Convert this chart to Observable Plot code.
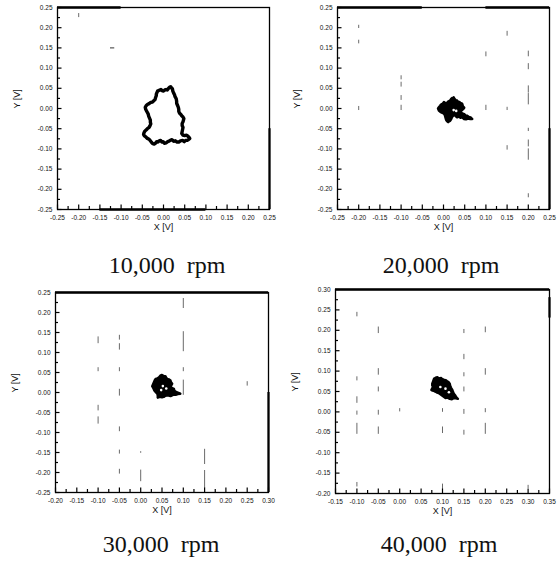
<!DOCTYPE html>
<html><head><meta charset="utf-8">
<script src="https://cdn.jsdelivr.net/npm/d3@7"></script>
<script src="https://cdn.jsdelivr.net/npm/@observablehq/plot@0.6"></script>
<style>
body{margin:0;background:#fff;}
#root{position:relative;width:559px;height:567px;overflow:hidden;background:#fff;}
.panel{position:absolute;}
.cap{position:absolute;font-family:"Liberation Serif","Times New Roman",serif;font-size:24px;line-height:24px;color:#111;white-space:pre;transform:translateX(-50%);}
</style></head><body><div id="root"></div>
<script>
// ---- captions ----
const captions = ["10,000  rpm", "20,000  rpm", "30,000  rpm", "40,000  rpm"];

// ---- tick values ----
const xTicks10 = [-0.25,-0.20,-0.15,-0.10,-0.05,0.00,0.05,0.10,0.15,0.20,0.25];
const yTicks10 = [-0.25,-0.20,-0.15,-0.10,-0.05,0.00,0.05,0.10,0.15,0.20,0.25];
const xTicks20 = [-0.25,-0.20,-0.15,-0.10,-0.05,0.00,0.05,0.10,0.15,0.20,0.25];
const yTicks20 = [-0.25,-0.20,-0.15,-0.10,-0.05,0.00,0.05,0.10,0.15,0.20,0.25];
const xTicks30 = [-0.20,-0.15,-0.10,-0.05,0.00,0.05,0.10,0.15,0.20,0.25,0.30];
const yTicks30 = [-0.25,-0.20,-0.15,-0.10,-0.05,0.00,0.05,0.10,0.15,0.20,0.25];
const xTicks40 = [-0.15,-0.10,-0.05,0.00,0.05,0.10,0.15,0.20,0.25,0.30,0.35];
const yTicks40 = [-0.20,-0.15,-0.10,-0.05,0.00,0.05,0.10,0.15,0.20,0.25,0.30];

// ---- orbit traces [x, y] in volts ----
const orbit10 = [[-0.016,0.038],[-0.014,0.043],[-0.010,0.045],[-0.006,0.047],[-0.003,0.044],[0.000,0.043],[0.003,0.046],[0.006,0.047],[0.009,0.046],[0.012,0.050],[0.015,0.053],[0.017,0.054],[0.019,0.051],[0.021,0.049],[0.022,0.043],[0.024,0.038],[0.026,0.034],[0.027,0.030],[0.030,0.024],[0.031,0.018],[0.031,0.013],[0.033,0.008],[0.035,0.003],[0.036,-0.002],[0.036,-0.007],[0.038,-0.012],[0.041,-0.015],[0.043,-0.018],[0.046,-0.021],[0.048,-0.025],[0.047,-0.029],[0.046,-0.033],[0.044,-0.037],[0.044,-0.042],[0.046,-0.047],[0.045,-0.052],[0.044,-0.057],[0.043,-0.062],[0.046,-0.066],[0.050,-0.067],[0.054,-0.066],[0.057,-0.068],[0.060,-0.071],[0.062,-0.074],[0.059,-0.077],[0.056,-0.079],[0.052,-0.079],[0.049,-0.082],[0.045,-0.079],[0.040,-0.080],[0.036,-0.083],[0.032,-0.083],[0.028,-0.080],[0.024,-0.081],[0.020,-0.077],[0.017,-0.078],[0.013,-0.081],[0.010,-0.082],[0.006,-0.085],[0.002,-0.086],[-0.001,-0.082],[-0.004,-0.083],[-0.007,-0.079],[-0.010,-0.080],[-0.013,-0.083],[-0.016,-0.082],[-0.019,-0.086],[-0.022,-0.088],[-0.025,-0.087],[-0.028,-0.084],[-0.031,-0.080],[-0.034,-0.076],[-0.038,-0.074],[-0.041,-0.071],[-0.045,-0.068],[-0.047,-0.064],[-0.046,-0.060],[-0.044,-0.056],[-0.041,-0.053],[-0.038,-0.050],[-0.034,-0.047],[-0.032,-0.043],[-0.030,-0.038],[-0.031,-0.034],[-0.031,-0.029],[-0.033,-0.024],[-0.035,-0.019],[-0.036,-0.014],[-0.038,-0.010],[-0.040,-0.006],[-0.042,-0.002],[-0.043,0.003],[-0.041,0.007],[-0.038,0.010],[-0.034,0.012],[-0.030,0.015],[-0.026,0.016],[-0.023,0.019],[-0.020,0.022],[-0.019,0.026],[-0.018,0.029],[-0.017,0.032],[-0.017,0.035],[-0.016,0.038]];
const orbit20 = [[-0.011,0.003],[-0.008,0.007],[-0.006,0.010],[-0.002,0.012],[0.001,0.016],[0.005,0.013],[0.008,0.014],[0.012,0.018],[0.016,0.020],[0.018,0.024],[0.020,0.026],[0.022,0.025],[0.024,0.028],[0.026,0.024],[0.028,0.022],[0.030,0.018],[0.032,0.020],[0.035,0.016],[0.038,0.016],[0.041,0.013],[0.044,0.012],[0.045,0.008],[0.046,0.005],[0.049,0.002],[0.048,0.000],[0.045,-0.003],[0.042,-0.006],[0.040,-0.009],[0.043,-0.011],[0.046,-0.013],[0.049,-0.014],[0.052,-0.017],[0.056,-0.018],[0.060,-0.021],[0.064,-0.022],[0.068,-0.026],[0.063,-0.026],[0.058,-0.025],[0.053,-0.027],[0.048,-0.026],[0.044,-0.022],[0.040,-0.023],[0.036,-0.020],[0.032,-0.022],[0.028,-0.018],[0.025,-0.016],[0.022,-0.019],[0.020,-0.022],[0.018,-0.027],[0.016,-0.030],[0.013,-0.032],[0.011,-0.034],[0.008,-0.031],[0.006,-0.028],[0.005,-0.024],[0.004,-0.020],[0.003,-0.016],[0.001,-0.013],[-0.002,-0.011],[-0.005,-0.010],[-0.008,-0.008],[-0.011,-0.005],[-0.013,0.000],[-0.011,0.003]];
const orbit30 = [[0.031,0.026],[0.033,0.031],[0.035,0.034],[0.039,0.035],[0.043,0.038],[0.046,0.042],[0.050,0.044],[0.054,0.041],[0.058,0.041],[0.060,0.037],[0.062,0.034],[0.066,0.033],[0.070,0.030],[0.071,0.026],[0.074,0.022],[0.072,0.018],[0.070,0.013],[0.074,0.011],[0.078,0.009],[0.079,0.005],[0.082,0.002],[0.087,0.000],[0.093,-0.003],[0.087,-0.004],[0.082,-0.006],[0.076,-0.006],[0.070,-0.009],[0.064,-0.007],[0.058,-0.008],[0.054,-0.011],[0.050,-0.012],[0.045,-0.011],[0.040,-0.013],[0.040,-0.008],[0.039,-0.003],[0.035,0.001],[0.032,0.005],[0.030,0.010],[0.027,0.016],[0.029,0.021],[0.031,0.026]];
const orbit40 = [[0.080,0.081],[0.084,0.084],[0.088,0.085],[0.092,0.082],[0.097,0.083],[0.100,0.080],[0.103,0.079],[0.107,0.078],[0.111,0.075],[0.114,0.073],[0.117,0.069],[0.118,0.064],[0.120,0.059],[0.123,0.054],[0.125,0.048],[0.127,0.044],[0.130,0.040],[0.133,0.035],[0.136,0.032],[0.131,0.033],[0.127,0.034],[0.122,0.031],[0.117,0.032],[0.112,0.035],[0.107,0.034],[0.103,0.037],[0.099,0.040],[0.095,0.043],[0.091,0.046],[0.086,0.048],[0.081,0.051],[0.077,0.052],[0.074,0.054],[0.076,0.058],[0.078,0.061],[0.076,0.065],[0.076,0.069],[0.078,0.075],[0.080,0.081]];

// ---- light spots inside the dense traces ----
const holes20 = [[0.024,-0.004],[0.030,-0.006]];
const holes30 = [[0.052,0.016],[0.060,0.010],[0.048,0.006]];
const holes40 = [[0.107,0.057],[0.115,0.048],[0.095,0.061]];

// ---- faint vertical dashes in the scans [x, y1, y2] ----
const dashes10 = [[-0.20,0.225,0.235]];
const dashes20 = [[-0.20,0.198,0.206],[-0.20,0.160,0.169],[-0.20,-0.005,0.005],[-0.10,0.071,0.081],[-0.10,0.053,0.065],[-0.10,0.020,0.032],[-0.10,-0.005,0.008],[0.10,0.128,0.140],[0.10,-0.005,0.008],[0.15,0.179,0.191],[0.15,-0.005,0.003],[0.15,-0.103,-0.092],[0.20,0.128,0.142],[0.20,0.096,0.111],[0.20,0.038,0.056],[0.20,0.009,0.037],[0.20,-0.057,-0.049],[0.20,-0.095,-0.078],[0.20,-0.128,-0.100],[0.20,-0.221,-0.211]];
const dashes30 = [[-0.10,0.122,0.139],[-0.10,0.052,0.062],[-0.10,-0.046,-0.032],[-0.10,-0.079,-0.061],[-0.05,0.131,0.143],[-0.05,0.106,0.122],[-0.05,0.052,0.062],[-0.05,-0.009,0.008],[-0.05,-0.098,-0.086],[-0.05,-0.154,-0.144],[-0.05,-0.204,-0.192],[0.00,-0.152,-0.148],[0.00,-0.223,-0.194],[0.10,0.210,0.235],[0.10,0.102,0.152],[0.10,0.052,0.062],[0.10,-0.007,0.031],[0.15,-0.180,-0.142],[0.15,-0.240,-0.195],[0.25,0.016,0.027]];
const dashes40 = [[-0.10,0.233,0.244],[-0.10,0.076,0.086],[-0.10,0.021,0.037],[-0.10,-0.008,0.002],[-0.10,-0.055,-0.028],[-0.10,-0.184,-0.173],[-0.05,0.192,0.208],[-0.05,0.090,0.106],[-0.05,0.049,0.061],[-0.05,-0.008,0.004],[-0.05,-0.055,-0.037],[0.00,0.000,0.008],[0.10,-0.001,0.008],[0.10,-0.053,-0.037],[0.10,-0.190,-0.177],[0.15,0.192,0.202],[0.15,0.128,0.141],[0.15,0.086,0.096],[0.15,0.049,0.061],[0.15,-0.006,0.006],[0.15,-0.057,-0.045],[0.20,0.194,0.208],[0.20,0.090,0.106],[0.20,-0.002,0.008],[0.20,-0.055,-0.028],[0.30,-0.188,-0.180]];
// short horizontal dashes [y, x1, x2]
const hdashes10 = [[0.15,-0.125,-0.115]];

// ---- darker (thicker) stretches of the frame in the scans ----
const hEdges10 = [[0.25,-0.25,-0.10],[-0.25,-0.15,0.10]];
const vEdges10 = [[0.25,-0.25,-0.05]];
const hEdges20 = [[0.25,-0.25,-0.05],[0.25,0.10,0.25]];
const vEdges20 = [[0.25,-0.25,-0.05]];
const hEdges30 = [[0.25,-0.20,0.30]];
const vEdges30 = [[0.30,-0.25,0.00]];
const hEdges40 = [[0.30,-0.15,0.35]];
const vEdges40 = [[0.35,0.23,0.28]];

const panels = [
  {left:0,   top:0,   w:280, h:244, ml:57, mr:11, mt:7,  mb:35, xt:xTicks10, yt:yTicks10, orbit:orbit10, fill:false, holes:[],      dashes:dashes10, hd:hdashes10, he:hEdges10, ve:vEdges10, cap:captions[0], cx:167, cy:253},
  {left:280, top:0,   w:279, h:244, ml:57, mr:10, mt:7,  mb:35, xt:xTicks20, yt:yTicks20, orbit:orbit20, fill:true,  holes:holes20, dashes:dashes20, hd:[], he:hEdges20, ve:vEdges20, cap:captions[1], cx:441, cy:253},
  {left:0,   top:280, w:280, h:247, ml:55, mr:12, mt:12, mb:35, xt:xTicks30, yt:yTicks30, orbit:orbit30, fill:true,  holes:holes30, dashes:dashes30, hd:[], he:hEdges30, ve:vEdges30, cap:captions[2], cx:161, cy:532},
  {left:280, top:280, w:279, h:248, ml:55, mr:10, mt:9,  mb:35, xt:xTicks40, yt:yTicks40, orbit:orbit40, fill:true,  holes:holes40, dashes:dashes40, hd:[], he:hEdges40, ve:vEdges40, cap:captions[3], cx:439, cy:532}
];

const fmt = d => d3.format(".2f")(d).replace("\u2212", "-");
const mids = t => t.slice(1).map((v, i) => (v + t[i]) / 2);
const root = document.getElementById("root");

for (const p of panels) {
  const x0 = p.xt[0], x1 = p.xt[p.xt.length - 1];
  const y0 = p.yt[0], y1 = p.yt[p.yt.length - 1];
  const iw = p.w - p.ml - p.mr, ih = p.h - p.mt - p.mb;
  // inward tick lengths (px) expressed in data units
  const tx = (y1 - y0) / ih, ty = (x1 - x0) / iw;
  const xMajor = p.xt.map(v => ({v, a: y0, b: y0 + 4.5 * tx}));
  const xMinor = mids(p.xt).map(v => ({v, a: y0, b: y0 + 3 * tx}));
  const yMajor = p.yt.map(v => ({v, a: x0, b: x0 + 4.5 * ty}));
  const yMinor = mids(p.yt).map(v => ({v, a: x0, b: x0 + 3 * ty}));
  const chart = Plot.plot({
    width: p.w, height: p.h,
    marginLeft: p.ml, marginRight: p.mr, marginTop: p.mt, marginBottom: p.mb,
    x: {domain: [x0, x1]},
    y: {domain: [y0, y1]},
    style: {fontFamily: "'Liberation Sans', Arial, sans-serif", fontSize: "6.5px", color: "#111", background: "transparent"},
    marks: [
      Plot.ruleX(p.dashes, {x: d => d[0], y1: d => d[1], y2: d => d[2], stroke: "#6a6a6a", strokeWidth: 1}),
      Plot.ruleY(p.hd, {y: d => d[0], x1: d => d[1], x2: d => d[2], stroke: "#333", strokeWidth: 1}),
      Plot.line(p.orbit, {x: d => d[0], y: d => d[1], stroke: "black", strokeWidth: p.fill ? 2.4 : 3.4, fill: p.fill ? "black" : "none", strokeLinejoin: "round"}),
      Plot.dot(p.holes, {x: d => d[0], y: d => d[1], r: 1.3, fill: "white", stroke: null}),
      Plot.frame({stroke: "black", strokeWidth: 1.3}),
      Plot.ruleY(p.he, {y: d => d[0], x1: d => d[1], x2: d => d[2], stroke: "black", strokeWidth: 2.6}),
      Plot.ruleX(p.ve, {x: d => d[0], y1: d => d[1], y2: d => d[2], stroke: "black", strokeWidth: 2.2}),
      // inward ticks
      Plot.ruleX(xMajor, {x: "v", y1: "a", y2: "b", stroke: "black", strokeWidth: 1.2}),
      Plot.ruleX(xMinor, {x: "v", y1: "a", y2: "b", stroke: "black", strokeWidth: 1.2}),
      Plot.ruleY(yMajor, {y: "v", x1: "a", x2: "b", stroke: "black", strokeWidth: 1.2}),
      Plot.ruleY(yMinor, {y: "v", x1: "a", x2: "b", stroke: "black", strokeWidth: 1.2}),
      Plot.axisX({ticks: p.xt, tickSize: 0, tickPadding: 6, tickFormat: fmt, label: null}),
      Plot.axisY({ticks: p.yt, tickSize: 0, tickPadding: 5, tickFormat: fmt, label: null}),
      Plot.text(["X [V]"], {frameAnchor: "bottom", dy: 20, fontSize: 9, fill: "#111"}),
      Plot.text(["Y [V]"], {frameAnchor: "left", dx: -40, rotate: -90, fontSize: 9, fill: "#111"})
    ]
  });
  const div = document.createElement("div");
  div.className = "panel";
  div.style.left = p.left + "px";
  div.style.top = p.top + "px";
  div.appendChild(chart);
  root.appendChild(div);
  const cap = document.createElement("div");
  cap.className = "cap";
  cap.style.left = p.cx + "px";
  cap.style.top = p.cy + "px";
  cap.textContent = p.cap;
  root.appendChild(cap);
}
</script>
</body></html>
